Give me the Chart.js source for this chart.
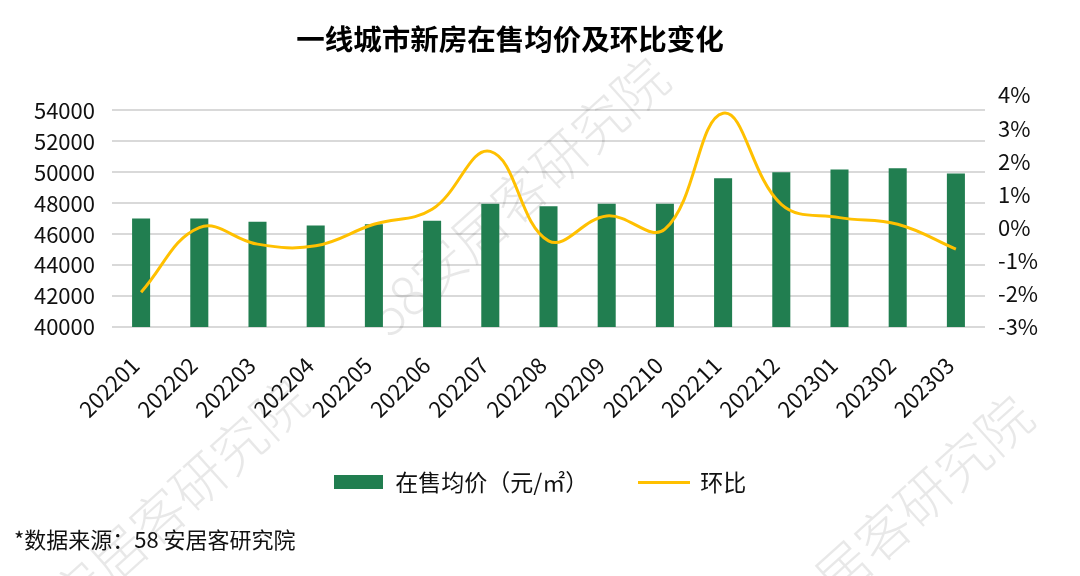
<!DOCTYPE html>
<html lang="zh-CN">
<head>
    <meta charset="UTF-8">
    <title>一线城市新房在售均价及环比变化</title>
    <script src="https://cdn.jsdelivr.net/npm/chart.js"></script>
    <style>
        body {
            margin: 0;
            padding: 0;
            background-color: #fff;
            font-family: "Noto Sans CJK SC", "Noto Sans", sans-serif;
        }

        #chart-container {
            position: relative;
            width: 1080px;
            height: 576px;
        }

        .chart-title {
            position: absolute;
            left: 0;
            top: 20px;
            width: 1020px;
            text-align: center;
            font-size: 28.5px;
            line-height: 36px;
            font-weight: bold;
            color: #000;
        }

        .footnote {
            position: absolute;
            left: 14px;
            top: 524px;
            font-size: 22px;
            line-height: 28px;
            color: #111;
        }
    </style>
</head>
<body>
    <div id="chart-container">
        <canvas id="priceChart"></canvas>
        <div class="chart-title">一线城市新房在售均价及环比变化</div>
        <div class="footnote">*数据来源：58 安居客研究院</div>
    </div>
    <script>
        // 数据
        const months = ['202201', '202202', '202203', '202204', '202205', '202206', '202207', '202208',
                        '202209', '202210', '202211', '202212', '202301', '202302', '202303'];
        const avgPrice = [47020, 47020, 46800, 46570, 46650, 46870, 47970, 47800,
                          47970, 47970, 49620, 50000, 50180, 50260, 49920];
        const momChange = [-1.95, 0.0, -0.5, -0.55, 0.1, 0.55, 2.3, -0.4,
                           0.35, -0.05, 3.45, 0.7, 0.3, 0.1, -0.65];
        const priceTicks = [40000, 42000, 44000, 46000, 48000, 50000, 52000, 54000];
        const pctTicks = [-3, -2, -1, 0, 1, 2, 3, 4];
        const seriesNames = ['在售均价（元/㎡）', '环比'];

        const FONT = '"Noto Sans CJK SC", "Noto Sans", sans-serif';
        const GREEN = '#217E50';
        const GOLD = '#FFC000';
        const INK = '#111';

        Chart.defaults.font.family = FONT;
        Chart.defaults.color = INK;

        // 图例标记
        function makeMark(w, h, color) {
            const c = document.createElement('canvas');
            c.width = w;
            c.height = h;
            const g = c.getContext('2d');
            g.fillStyle = color;
            g.fillRect(0, 0, w, h);
            return c;
        }
        const legendMarks = [makeMark(49, 14, GREEN), makeMark(52, 3, GOLD)];

        // 水印
        const watermarkText = '58安居客研究院';
        const watermarkSpots = [[376, 324], [15, 646], [740, 662]];
        const watermarkPlugin = {
            id: 'watermark',
            beforeDatasetsDraw(chart) {
                const ctx = chart.ctx;
                ctx.save();
                ctx.font = '300 54px ' + FONT;
                ctx.fillStyle = 'rgba(0, 0, 0, 0.09)';
                ctx.textBaseline = 'middle';
                watermarkSpots.forEach(([x, y]) => {
                    ctx.save();
                    ctx.translate(x, y);
                    ctx.rotate(-42 * Math.PI / 180);
                    ctx.fillText(watermarkText, 0, 0);
                    ctx.restore();
                });
                ctx.restore();
            }
        };

        const ctx = document.getElementById('priceChart').getContext('2d');
        new Chart(ctx, {
            type: 'bar',
            data: {
                labels: months,
                datasets: [{
                    type: 'bar',
                    label: seriesNames[0],
                    data: avgPrice,
                    backgroundColor: GREEN,
                    barPercentage: 0.31,
                    categoryPercentage: 1.0,
                    yAxisID: 'y',
                    order: 2
                }, {
                    type: 'line',
                    label: seriesNames[1],
                    data: momChange,
                    borderColor: GOLD,
                    backgroundColor: GOLD,
                    borderWidth: 3,
                    pointRadius: 0,
                    tension: 0.4,
                    yAxisID: 'y1',
                    order: 1
                }]
            },
            options: {
                responsive: true,
                maintainAspectRatio: false,
                animation: false,
                layout: {
                    padding: { top: 95, bottom: 72.5, left: 0, right: 0 }
                },
                plugins: {
                    title: { display: false },
                    tooltip: { enabled: false },
                    legend: {
                        position: 'bottom',
                        labels: {
                            usePointStyle: true,
                            pointStyleWidth: 50,
                            padding: 30,
                            font: { size: 23 },
                            color: INK,
                            sort: (a, b) => a.datasetIndex - b.datasetIndex,
                            generateLabels: chart => chart.data.datasets.map((ds, i) => ({
                                text: i === 0 ? ds.label + '    ' : ds.label,
                                fillStyle: ds.backgroundColor,
                                strokeStyle: 'transparent',
                                lineWidth: 0,
                                pointStyle: legendMarks[i],
                                hidden: false,
                                datasetIndex: i,
                                fontColor: INK
                            }))
                        }
                    }
                },
                scales: {
                    x: {
                        grid: { display: false, drawTicks: false },
                        border: { display: false },
                        ticks: {
                            font: { size: 22 },
                            maxRotation: 45,
                            minRotation: 45,
                            padding: 25,
                            labelOffset: -6,
                            autoSkip: false
                        },
                        afterFit: scale => { scale.height = 113.5; }
                    },
                    y: {
                        position: 'left',
                        min: 40000,
                        max: 55000,
                        grid: { color: '#d9d9d9', lineWidth: 2, drawTicks: false },
                        border: { display: false },
                        ticks: {
                            font: { size: 22 },
                            padding: 17,
                            callback: v => String(v)
                        },
                        afterBuildTicks: scale => { scale.ticks = priceTicks.map(v => ({ value: v })); },
                        afterFit: scale => { scale.width = 112; }
                    },
                    y1: {
                        position: 'right',
                        min: -3,
                        max: 4,
                        grid: { display: false, drawTicks: false },
                        border: { display: false },
                        ticks: {
                            font: { size: 22 },
                            padding: 13,
                            callback: v => v + '%'
                        },
                        afterBuildTicks: scale => { scale.ticks = pctTicks.map(v => ({ value: v })); },
                        afterFit: scale => { scale.width = 95; }
                    }
                }
            },
            plugins: [watermarkPlugin]
        });
    </script>
</body>
</html>
